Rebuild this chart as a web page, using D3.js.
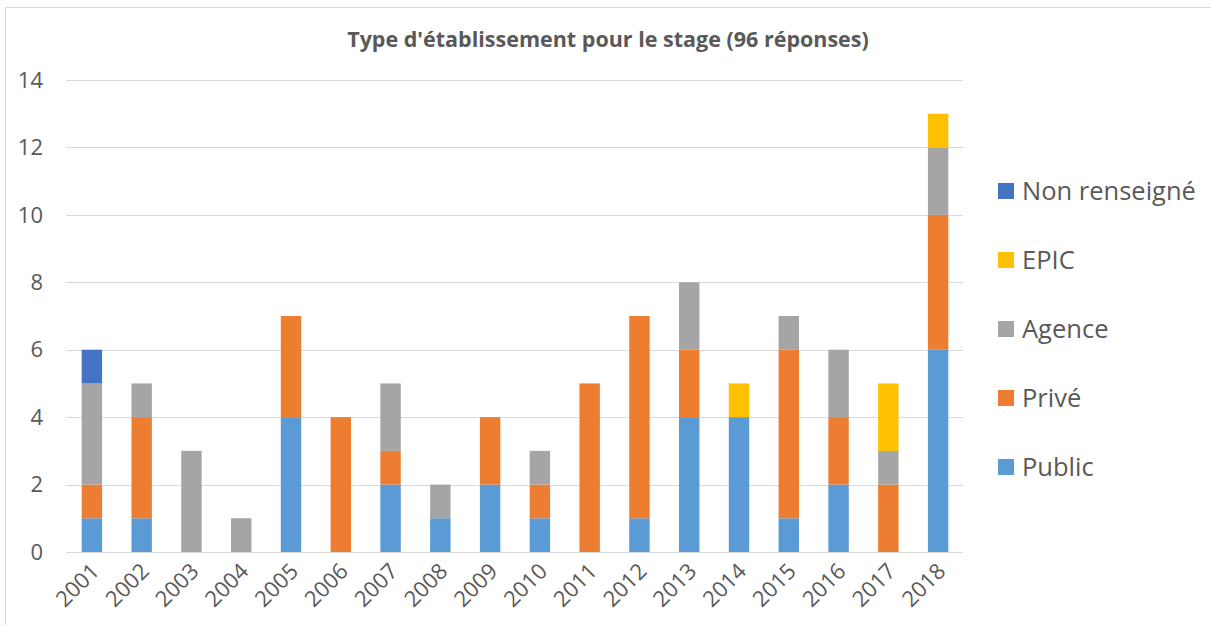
<!DOCTYPE html>
<html>
<head>
<meta charset="utf-8">
<script src="https://cdn.jsdelivr.net/npm/d3@7"></script>
<style>
  body { margin: 0; background: #fff; }
  svg { font-family: "Open Sans", Lato, sans-serif; }
</style>
</head>
<body>
<svg id="chart" width="1211" height="625"></svg>
<script>
(function(){
    'use strict';

    // data
    var years = ['2001','2002','2003','2004','2005','2006','2007','2008','2009',
                 '2010','2011','2012','2013','2014','2015','2016','2017','2018'];
    var publicVals  = [1,1,0,0,4,0,2,1,2,1,0,1,4,4,1,2,0,6];
    var priveVals   = [1,3,0,0,3,4,1,0,2,1,5,6,2,0,5,2,2,4];
    var agenceVals  = [3,1,3,1,0,0,2,1,0,1,0,0,2,0,1,2,1,2];
    var epicVals    = [0,0,0,0,0,0,0,0,0,0,0,0,0,1,0,0,2,1];
    var nonRensVals = [1,0,0,0,0,0,0,0,0,0,0,0,0,0,0,0,0,0];
    var yTicks = [0,2,4,6,8,10,12,14];

    var series = [
        {key:'Public', values:publicVals, color:'#5B9BD5'},
        {key:'Privé', values:priveVals, color:'#ED7D31'},
        {key:'Agence', values:agenceVals, color:'#A5A5A5'},
        {key:'EPIC', values:epicVals, color:'#FFC000'},
        {key:'Non renseigné', values:nonRensVals, color:'#4472C4'}
    ];

    var rows = years.map(function(y, i){
        var r = {year:y};
        series.forEach(function(s){ r[s.key] = s.values[i]; });
        return r;
    });

    var svg = d3.select('#chart');
    var textColor = '#595959';

    // frame
    svg.append('rect')
        .attr('x', 5.5).attr('y', 7.5)
        .attr('width', 1300).attr('height', 700)
        .attr('fill', 'none').attr('stroke', '#D9D9D9');

    var left = 67, right = 963, top = 80, bottom = 552;

    var x = d3.scaleBand().domain(years).range([left, right]).paddingInner(0.59).paddingOuter(0.295);
    var y = d3.scaleLinear().domain([0,14]).range([bottom, top]);

    // gridlines
    svg.append('g').selectAll('line')
        .data(yTicks).enter()
        .append('line')
        .attr('x1', left - 1).attr('x2', right)
        .attr('y1', function(d){ return Math.round(y(d)) + 0.5; })
        .attr('y2', function(d){ return Math.round(y(d)) + 0.5; })
        .attr('stroke', '#D9D9D9').attr('stroke-width', 1);

    // y labels
    svg.append('g').selectAll('text')
        .data(yTicks).enter()
        .append('text')
        .attr('x', 43)
        .attr('y', function(d){ return y(d); })
        .attr('dy', '0.35em')
        .attr('text-anchor', 'end')
        .attr('fill', textColor)
        .style('font-size', '22px')
        .text(function(d){ return d; });

    // stacked bars
    var stack = d3.stack().keys(series.map(function(s){ return s.key; }));
    var layers = stack(rows);

    svg.append('g').selectAll('g')
        .data(layers).enter()
        .append('g')
        .attr('fill', function(d, i){ return series[i].color; })
        .selectAll('rect')
        .data(function(d){ return d; }).enter()
        .append('rect')
        .attr('x', function(d){ return x(d.data.year); })
        .attr('width', x.bandwidth())
        .attr('y', function(d){ return y(d[1]); })
        .attr('height', function(d){ return y(d[0]) - y(d[1]); });

    // x labels
    svg.append('g').selectAll('text')
        .data(years).enter()
        .append('text')
        .attr('transform', function(d){
            var cx = x(d) + x.bandwidth()/2 - 3;
            return 'translate(' + cx + ',' + (bottom + 9) + ') rotate(-45)';
        })
        .attr('text-anchor', 'end')
        .attr('dy', '0.75em')
        .attr('fill', textColor)
        .style('font-size', '22px')
        .text(function(d){ return d; });

    // title
    svg.append('text')
        .attr('x', 608).attr('y', 47)
        .attr('text-anchor', 'middle')
        .attr('fill', textColor)
        .style('font-size', '21.5px')
        .style('font-weight', 'bold')
        .text("Type d'établissement pour le stage (96 réponses)");

    // legend (reverse order, top to bottom)
    var legendItems = series.slice().reverse();
    var lg = svg.append('g').selectAll('g')
        .data(legendItems).enter()
        .append('g')
        .attr('transform', function(d, i){ return 'translate(998,' + (191 + i*69) + ')'; });
    lg.append('rect')
        .attr('x', 0).attr('y', -8)
        .attr('width', 16).attr('height', 16)
        .attr('fill', function(d){ return d.color; });
    lg.append('text')
        .attr('x', 24).attr('y', 0)
        .attr('dy', '0.35em')
        .attr('fill', textColor)
        .style('font-size', '25.5px')
        .text(function(d){ return d.key; });
}());
</script>
</body>
</html>
